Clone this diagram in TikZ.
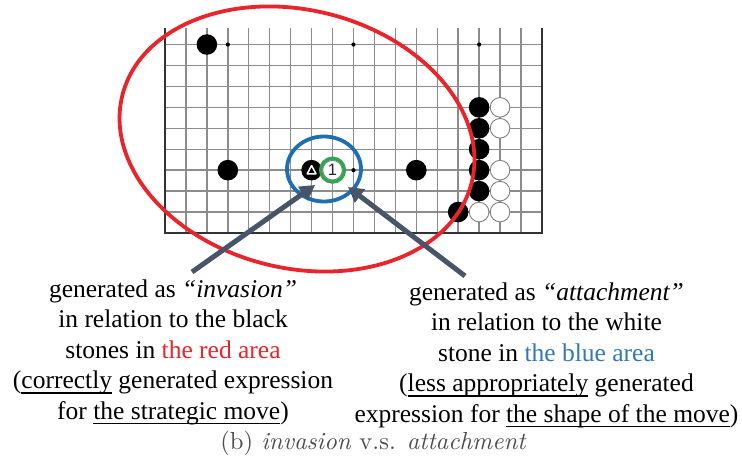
\documentclass[tikz,border=0pt]{standalone}
\usepackage{fontspec}
\usetikzlibrary{arrows.meta,positioning}
\newfontfamily\timesfont{Liberation Serif}
\newfontfamily\arialfont{Liberation Sans}
\definecolor{areared}{RGB}{233,36,42}
\definecolor{areablue}{RGB}{30,110,180}
\definecolor{textblue}{RGB}{50,120,185}
\definecolor{ringgreen}{RGB}{50,165,80}
\definecolor{pointer}{RGB}{72,84,104}
% underline that lets descenders cross it
\newcommand{\ulword}[1]{\setbox0\hbox{#1}\rlap{\rule[-5bp]{\wd0}{1.6bp}}\box0\relax}

\begin{document}
\begin{tikzpicture}[x=1bp, y=1bp,
    gridline/.style={draw=black!45, line width=1.4bp},
    edgeline/.style={draw=black!80, line width=2.4bp},
    bstone/.style={circle, fill=black, minimum size=20.6bp, inner sep=0pt},
    wstone/.style={circle, fill=white, draw=black!50, line width=0.9bp,
                   minimum size=19.6bp, inner sep=0pt},
    area/.style={line width=3.8bp},
    pointer arrow/.style={-{Triangle[length=15bp,width=16bp]},
                          line width=5bp, draw=pointer},
    comment/.style={font=\timesfont\fontsize{25.5bp}{30.5bp}\selectfont,
                    align=center, inner sep=0pt, anchor=north},
    caption/.style={font=\fontsize{10pt}{12pt}\selectfont, text=black!70,
                    inner sep=0pt, anchor=base}
]
\useasboundingbox[fill=white] (0,0) rectangle (742,468);

% the board (lower part of a 19x19 board)
\begin{scope}[shift={(144.06bp,214.06bp)}, x=20.94bp, y=20.94bp]
  \foreach \c in {2,...,18} \draw[gridline] (\c,1) -- (\c,10.79);
  \foreach \r in {2,...,10} \draw[gridline] (1,\r) -- (19,\r);
  \draw[edgeline] (1,10.79) -- (1,1) -- (19,1) -- (19,10.79);
  \foreach \c/\r in {4/10,10/10,16/10,10/4} \fill (\c,\r) circle (2.1bp);
  \foreach \c/\r [count=\k] in {3/10,4/4,13/4,16/7,16/6,16/5,16/4,16/3,15/2}
    \node[bstone] (b\k) at (\c,\r) {};
  \foreach \c/\r [count=\k] in {17/7,17/6,17/4,17/3,16/2,17/2}
    \node[wstone] (w\k) at (\c,\r) {};
  \node[bstone] (tri) at (8,4) {};
  \node[wstone, font=\arialfont\fontsize{16.5bp}{16.5bp}\selectfont,
        text=black!85] (move) at (9,4) {1};
\end{scope}
\draw[white, line width=1.5bp, line join=round]
  ([yshift=4.6bp]tri.center) -- ([shift={(-4.4bp,-3.6bp)}]tri.center)
  -- ([shift={(4.4bp,-3.6bp)}]tri.center) -- cycle;

% areas
\draw[ringgreen, line width=3.4bp] (move) circle (11.9bp);
\draw[areablue, area] (324,299) ellipse (37 and 32.5);
\draw[areared, area, rotate around={-14:(297,329)}] (297,329) ellipse (180 and 129);

% comments
\node[comment] (invasion) at (173,188.7)
  {generated as \textit{“invasion”}\\
   in relation to the black\\
   stones in \textcolor{areared}{the red area}\\
   (\ulword{correctly} generated expression\\
   for \ulword{the strategic move})};
\node[comment] (attachment) at (546.5,185.4)
  {generated as \textit{“attachment”}\\
   in relation to the white\\
   stone in \textcolor{textblue}{the blue area}\\
   (\ulword{less appropriately} generated\\
   expression for \ulword{the shape of the move})};

\coordinate (invtail) at (192,196);
\coordinate (atttail) at (465,192);
\draw[pointer arrow] (invtail) -- ([shift={(3.5bp,-14.8bp)}]tri.center);
\draw[pointer arrow] (atttail) -- ([shift={(15.5bp,-16.8bp)}]move.center);

\node[caption] (cap) at (373.5,18)
  {\scalebox{2.47}{(b) \textit{invasion} v.s. \textit{attachment}}};
\end{tikzpicture}
\end{document}
